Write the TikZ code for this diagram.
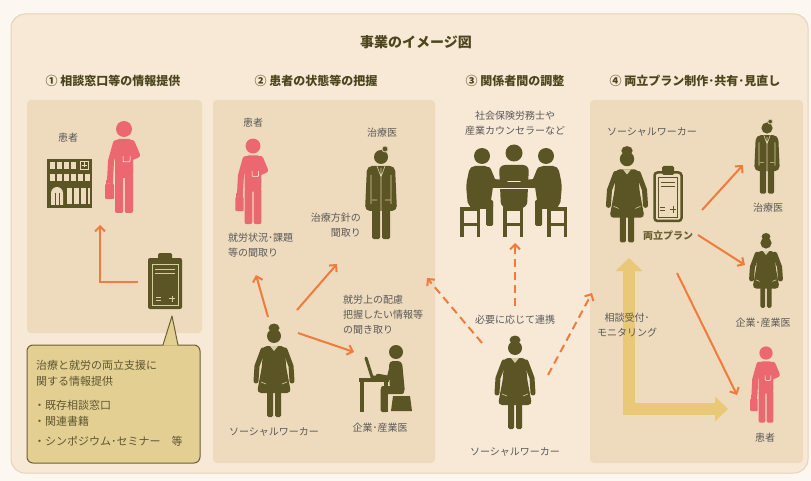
\documentclass[tikz,border=0pt]{standalone}
\usepackage{fontspec}
\setmainfont{Noto Sans CJK JP}
\usetikzlibrary{arrows.meta}

\definecolor{pagebg}{HTML}{FCF7F0}
\definecolor{outerfill}{HTML}{F8E8D6}
\definecolor{outerline}{HTML}{E8D3B4}
\definecolor{panelfill}{HTML}{EEDABC}
\definecolor{olive}{HTML}{5B5526}
\definecolor{pinkfig}{HTML}{EC6871}
\definecolor{orangearr}{HTML}{F07B3B}
\definecolor{headtxt}{HTML}{4C461D}
\definecolor{labeltxt}{HTML}{5A5A5A}
\definecolor{calloutfill}{HTML}{E4CF92}
\definecolor{calloutline}{HTML}{6A6133}
\definecolor{calloutxt}{HTML}{5E5631}
\definecolor{yelarr}{HTML}{E9C877}
\definecolor{figlight}{HTML}{D8CDA2}
\definecolor{plantxt}{HTML}{6A6030}

\tikzset{
  ttl/.style={font=\bfseries\fontsize{14}{16}\selectfont, text=headtxt, inner sep=0},
  hdr/.style={font=\bfseries\fontsize{12}{14}\selectfont, text=headtxt, inner sep=0},
  lbl/.style={font=\fontsize{10}{15}\selectfont, text=labeltxt, inner sep=0, align=center},
  ctxt/.style={font=\fontsize{11}{13}\selectfont, text=calloutxt, inner sep=0, anchor=west},
  arr/.style={draw=orangearr, line width=2, -{Straight Barb[length=5pt,width=10pt]}},
  darr/.style={arr, dash pattern=on 8pt off 5pt},
  bigarrow/.style={draw=yelarr, line width=12, line join=miter,
    {Triangle[length=13pt,width=26pt]}-{Triangle[length=13pt,width=24pt]}},
  % standing patient holding a bag (origin = head centre, y downwards)
  patientfig/.pic={
    \fill[pinkfig] (0,0) circle (8);
    \fill[pinkfig, rounded corners=4] (-9,10) rectangle (9,49);
    \fill[pinkfig, rounded corners=2] (-9,45) rectangle (-0.8,84);
    \fill[pinkfig, rounded corners=2] (0.8,45) rectangle (9,84);
    \draw[pinkfig, line width=6, line cap=round, line join=round] (-8,14) -- (-13,32) -- (-14,52);
    \draw[pinkfig, line width=1.5] (-17,56) -- (-17,51.5) -- (-12,51.5) -- (-12,56);
    \fill[pinkfig, rounded corners=1] (-19,55) rectangle (-10,70);
    \draw[pinkfig, line width=6, line cap=round, line join=round] (8,14) -- (13,26) -- (3,30);
    \draw[white, line width=0.5, rounded corners=1] (-1,27) -- (-1,33) -- (6,33) -- (6,27);
  },
  % doctor in a long coat with a head mirror
  doctorfig/.pic={
    \fill[olive] (0,0) circle (7);
    \fill[olive, rounded corners=5] (-14,9) -- (14,9) -- (16,54) -- (-16,54) -- cycle;
    \fill[olive, rounded corners=1.5] (-9,52) rectangle (-1,82);
    \fill[olive, rounded corners=1.5] (1,52) rectangle (9,82);
    \draw[figlight, line width=0.6] (0,11) -- (0,54) (-4,9) -- (0,20) -- (4,9)
      (-10,18) -- (-10,47) (10,18) -- (10,47) (-9,43) -- (-4,43) (4,43) -- (9,43);
    \draw[figlight, fill=olive, line width=0.8] (4,-8) circle (3);
  },
  % woman with a hair bun (social worker, company doctor)
  womanfig/.pic={
    \fill[olive] (0,-8) ellipse (5.5 and 4.5);
    \fill[olive] (0,0) circle (7);
    \draw[olive, line width=5, line cap=round, line join=round] (-11,14) -- (-17,30) -- (-18,45);
    \draw[olive, line width=5, line cap=round, line join=round] (11,14) -- (17,30) -- (18,45);
    \fill[olive, rounded corners=4] (-11,10) -- (11,10) -- (12,30) -- (17,57) -- (-17,57) -- (-12,30) -- cycle;
    \fill[olive, rounded corners=1.5] (-7,55) rectangle (-1,81);
    \fill[olive, rounded corners=1.5] (1,55) rectangle (7,81);
    \fill[figlight] (-4,10) -- (4,10) -- (0,15) -- cycle;
    \draw[figlight, line width=0.6] (-13,46) -- (-8,48) (13,46) -- (8,48);
  },
  % person seated sideways at the meeting table
  sidesitter/.pic={
    \fill[olive] (0,0) circle (8);
    \fill[olive, rounded corners=5] (-12,10) -- (8,10) -- (12,24) -- (8,51) -- (-14,51) -- (-16,29) -- cycle;
    \fill[olive, rounded corners=2] (-12,44) rectangle (11,53);
    \fill[olive, rounded corners=1.5] (4,44) rectangle (11,70);
    \draw[outerfill, line width=0.8] (7,14) -- (11,25);
    \draw[olive, line width=6, line cap=round, line join=round] (6,14) -- (11,26) -- (23,27);
  },
  stoolfig/.pic={
    \fill[olive] (-10,0) rectangle (10,4);
    \fill[olive] (-10,4) rectangle (-6.5,30);
    \fill[olive] (6.5,4) rectangle (10,30);
    \fill[olive] (-8,16) rectangle (8,19);
  },
}

\begin{document}
\begin{tikzpicture}[x=1pt,y=-1pt]
\useasboundingbox (0,0) rectangle (811,481);
\fill[pagebg] (0,0) rectangle (811,481);
\draw[outerline, fill=outerfill, rounded corners=14, line width=1] (11,14) rectangle (808,473);

% panels
\fill[panelfill, rounded corners=4] (27,100) rectangle (202,333);
\fill[panelfill, rounded corners=4] (213,100) rectangle (435,463);
\fill[panelfill, rounded corners=4] (590,100) rectangle (803,463);

% title and section headings
\node[ttl] (title) at (416,42) {事業のイメージ図};
\node[hdr] (h1) at (113,81) {① 相談窓口等の情報提供};
\node[hdr] (h2) at (316,81) {② 患者の状態等の把握};
\node[hdr] (h3) at (515,81) {③ 関係者間の調整};
\node[hdr] (h4) at (695,81) {④ 両立プラン制作･共有･見直し};

% ---------- section 1 ----------
\node[lbl] (p1lbl) at (68,138) {患者};
% hospital building
\fill[olive] (47,159) rectangle (92,208);
\foreach \wx in {50,57,64,71} \fill[panelfill] (\wx,162) rectangle (\wx+5,169);
\draw[panelfill, line width=0.8] (80,161) rectangle (88,169) (84,162.5) -- (84,167.5) (81.5,165) -- (86.5,165);
\foreach \wx in {50,57,64,71,78,85} \fill[panelfill] (\wx,174) rectangle (\wx+5,181);
\fill[panelfill] (51,205) -- (51,193) arc (180:360:6) -- (63,205) -- cycle;
\draw[olive, line width=1] (55,193) -- (55,205) (59,193) -- (59,205);
\foreach \wx in {67,74,81} \fill[panelfill] (\wx,188) rectangle (\wx+5,204);
\fill[panelfill] (88,188) rectangle (90,204);
\pic at (124,129) {patientfig};
% clipboard
\fill[olive, rounded corners=2] (148,258) rectangle (182,309);
\fill[olive, rounded corners=1.5] (158,253) rectangle (172,261);
\draw[figlight, line width=0.8] (152,264) rectangle (178,305);
\draw[figlight, line width=0.8] (155,269) -- (175,269) (155,273) -- (175,273);
\draw[figlight, line width=1] (156,297) -- (161,297) (156,300) -- (161,300) (172,295.5) -- (172,302) (168.8,298.7) -- (175.2,298.7);
\coordinate (clipL) at (138,282);
\coordinate (patL) at (100,225);
\draw[arr] (clipL) -| (patL);

% callout box
\draw[calloutline, fill=calloutfill, line width=1, rounded corners=6] (27,345) rectangle (200,463);
\fill[calloutfill] (163.3,345.6) -- (172,316) -- (177.7,345.6) -- cycle;
\draw[calloutline, line width=1, line join=round] (163,345) -- (172,316) -- (178,345);
\node[ctxt] (c1) at (36,365) {治療と就労の両立支援に};
\node[ctxt] (c2) at (36,381) {関する情報提供};
\node[ctxt] (c3) at (34,405) {・既存相談窓口};
\node[ctxt] (c4) at (34,421) {・関連書籍};
\node[ctxt] (c5) at (34,441) {・シンポジウム･セミナー　等};

% ---------- section 2 ----------
\node[lbl] (p2lbl) at (253,123) {患者};
\pic[scale=0.93] at (253,146) {patientfig};
\node[lbl, align=left, anchor=west] (p2ask) at (228,245.5) {就労状況･課題\\等の聞取り};
\node[lbl] (d2lbl) at (382,133) {治療医};
\pic at (381,157) {doctorfig};
\node[lbl, align=right, anchor=east] (d2ask) at (361,225) {治療方針の\\聞取り};
\node[lbl, align=left, anchor=west] (c2ask) at (343,315) {就労上の配慮\\把握したい情報等\\の聞き取り};
\pic at (274,336) {womanfig};
\node[lbl] (sw2lbl) at (274,432) {ソーシャルワーカー};
% company doctor at a desk
\fill[olive] (359,378) rectangle (389,382);
\fill[olive] (360,382) rectangle (363.5,412);
\fill[olive] (384,382) rectangle (387.5,412);
\draw[olive, line width=3, line cap=round] (366,358) -- (372,377) -- (386,377);
\fill[olive] (396,352) circle (7);
\fill[olive, rounded corners=4] (389,361) -- (402,361) -- (405,393) -- (390,393) -- cycle;
\fill[olive, rounded corners=2] (381,386) rectangle (404,394);
\fill[olive, rounded corners=1.5] (380.5,388) rectangle (387.5,412);
\fill[olive] (393,396) -- (410,396) -- (412,411) -- (391,411) -- cycle;
\draw[olive, line width=4.5, line cap=round, line join=round] (392,366) -- (389,378) -- (378,376);
\node[lbl] (cd2lbl) at (380,428) {企業･産業医};
\coordinate (sw2a) at (268,317);
\coordinate (sw2b) at (297,310);
\coordinate (sw2c) at (298,333);
\coordinate (pat2in) at (256,275);
\coordinate (doc2in) at (337,264);
\coordinate (cd2in) at (354,352);
\draw[arr] (sw2a) -- (pat2in);
\draw[arr] (sw2b) -- (doc2in);
\draw[arr] (sw2c) -- (cd2in);

% ---------- section 3 ----------
\node[lbl] (p3lbl) at (515,123.5) {社会保険労務士や\\産業カウンセラーなど};
% meeting around a table
\fill[olive] (514,153) circle (8.5);
\fill[olive, rounded corners=6] (499,165) -- (529,165) -- (527,208) -- (501,208) -- cycle;
\draw[outerfill, line width=1, fill=olive] (481,182) rectangle (548,189);
\draw[outerfill, line width=0.8] (484,189) -- (484,196) (545,189) -- (545,196);
\pic at (482,156) {sidesitter};
\pic[xscale=-1] at (546,156) {sidesitter};
\pic at (470,207) {stoolfig};
\pic at (513,207) {stoolfig};
\pic at (557,207) {stoolfig};
\node[lbl] (linklbl) at (515,320) {必要に応じて連携};
\pic at (515,348) {womanfig};
\node[lbl] (sw3lbl) at (515,452) {ソーシャルワーカー};
\coordinate (sw3up) at (515,306);
\coordinate (meetin) at (515,243);
\coordinate (sw3l) at (482,343);
\coordinate (p2in) at (427,278);
\coordinate (sw3r) at (548,375);
\coordinate (p4in) at (592,293);
\draw[darr] (sw3up) -- (meetin);
\draw[darr] (sw3l) -- (p2in);
\draw[darr] (sw3r) -- (p4in);

% ---------- section 4 ----------
\coordinate (montop) at (629,258);
\coordinate (monend) at (728,409);
\draw[bigarrow] (montop) |- (monend);
\node[lbl] (sw4lbl) at (652,132) {ソーシャルワーカー};
\pic[scale=1.03] at (627,159) {womanfig};
% plan clipboard
\draw[olive, line width=2.5, fill=panelfill, rounded corners=3] (654.5,172.5) rectangle (681.5,221);
\fill[olive, rounded corners=1.5] (662,166) rectangle (674,175);
\draw[olive, line width=0.7] (658.5,177) rectangle (677.5,217);
\draw[olive, line width=0.8] (661,182) -- (675,182) (661,186) -- (675,186);
\draw[olive, line width=1] (660,208) -- (665,208) (660,211) -- (665,211) (673,206.5) -- (673,213) (669.8,209.7) -- (676.2,209.7);
\node[lbl, font=\bfseries\fontsize{10}{12}\selectfont, text=plantxt] (planlbl) at (668,236) {両立プラン};
\pic[scale=0.8] at (767,128) {doctorfig};
\node[lbl] (d4lbl) at (768,208) {治療医};
\pic[scale=0.8] at (766,243) {womanfig};
\node[lbl] (cd4lbl) at (763,323) {企業･産業医};
\pic[scale=0.83] at (766,353) {patientfig};
\node[lbl] (p4lbl) at (765,438) {患者};
\node[lbl] (monlbl) at (627,325) {相談受付･\\モニタリング};
\coordinate (plan1) at (702,210);
\coordinate (doc4in) at (743,165);
\coordinate (plan2) at (698,235);
\coordinate (cd4in) at (745,265);
\coordinate (plan3) at (677,273);
\coordinate (pat4in) at (737,395);
\draw[arr] (plan1) -- (doc4in);
\draw[arr] (plan2) -- (cd4in);
\draw[arr] (plan3) -- (pat4in);
\end{tikzpicture}
\end{document}
